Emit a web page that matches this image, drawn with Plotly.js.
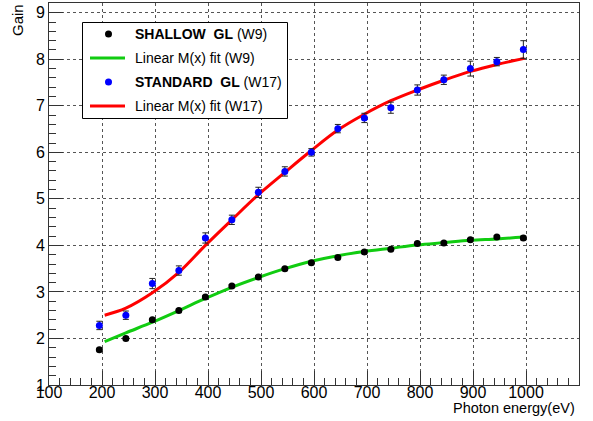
<!DOCTYPE html>
<html>
<head>
<meta charset="utf-8">
<script src="https://cdn.plot.ly/plotly-3.0.1.min.js"></script>
<style>
  html, body { margin: 0; padding: 0; background: #fff; }
  #chart { width: 593px; height: 421px; }
</style>
</head>
<body>
<div id="chart"></div>
<script>
// Measured gain vs photon energy for the two gain-layer designs
const photonEnergy = [195, 245, 295, 345, 395, 445, 495, 545, 595, 645, 695, 745, 795, 845, 895, 945, 995];

const shallowGain = [1.76, 2.00, 2.40, 2.60, 2.89, 3.13, 3.32, 3.50, 3.63, 3.74, 3.86, 3.92, 4.04, 4.05, 4.12, 4.18, 4.16];
const shallowErr  = [0.03, 0.03, 0.03, 0.03, 0.03, 0.03, 0.03, 0.03, 0.03, 0.03, 0.03, 0.03, 0.03, 0.03, 0.03, 0.03, 0.04];

const standardGain = [2.28, 2.50, 3.18, 3.46, 4.16, 4.55, 5.14, 5.59, 6.00, 6.51, 6.74, 6.96, 7.34, 7.56, 7.80, 7.95, 8.21];
const standardErr  = [0.09, 0.09, 0.11, 0.10, 0.11, 0.10, 0.11, 0.10, 0.08, 0.09, 0.10, 0.12, 0.11, 0.10, 0.16, 0.09, 0.19];

// Linear M(x) fit curves
const fitEnergy   = [205, 245, 295, 345, 395, 445, 495, 545, 595, 645, 695, 745, 795, 845, 895, 945, 997];
const shallowFit  = [1.93, 2.12, 2.35, 2.60, 2.86, 3.10, 3.31, 3.50, 3.66, 3.78, 3.87, 3.94, 4.01, 4.06, 4.11, 4.14, 4.18];
const standardFit = [2.50, 2.65, 2.98, 3.42, 4.00, 4.55, 5.09, 5.57, 6.04, 6.48, 6.82, 7.11, 7.34, 7.55, 7.74, 7.89, 8.02];

const xTicks = [100, 200, 300, 400, 500, 600, 700, 800, 900, 1000, 1100];
const yTicks = [1, 2, 3, 4, 5, 6, 7, 8, 9];

const legendRows = [
  { text: '<b>SHALLOW&nbsp;&nbsp;GL</b> (W9)', kind: 'dot', color: '#000000' },
  { text: 'Linear M(x) fit (W9)', kind: 'line', color: '#11cc11' },
  { text: '<b>STANDARD&nbsp;&nbsp;GL</b> (W17)', kind: 'dot', color: '#0000ff' },
  { text: 'Linear M(x) fit (W17)', kind: 'line', color: '#ff0000' }
];

const W = 593, H = 421;
const M = { l: 49, r: 14, t: 3, b: 36 };
const px = x => (x - M.l) / (W - M.l - M.r);
const py = y => (H - M.b - y) / (H - M.t - M.b);

const FONT = 'Liberation Sans, Arial, Helvetica, sans-serif';

const traces = [
  {
    x: fitEnergy, y: shallowFit, mode: 'lines', type: 'scatter',
    line: { color: '#11cc11', width: 3, shape: 'spline', smoothing: 1 },
    hoverinfo: 'skip'
  },
  {
    x: fitEnergy, y: standardFit, mode: 'lines', type: 'scatter',
    line: { color: '#ff0000', width: 3, shape: 'spline', smoothing: 1 },
    hoverinfo: 'skip'
  },
  {
    x: photonEnergy, y: shallowGain, mode: 'markers', type: 'scatter',
    marker: { color: '#000000', size: 7 },
    error_y: { type: 'data', array: shallowErr, visible: true, color: '#222', thickness: 1, width: 3 }
  },
  {
    x: photonEnergy, y: standardGain, mode: 'markers', type: 'scatter',
    marker: { color: '#0000ff', size: 7 },
    error_y: { type: 'data', array: standardErr, visible: true, color: '#222', thickness: 1, width: 3 }
  }
];

// Hand-built legend box
const shapes = [{
  type: 'rect', xref: 'paper', yref: 'paper',
  x0: px(82.5), x1: px(287.5), y0: py(118.5), y1: py(22.5),
  line: { color: '#000', width: 1 }, fillcolor: '#fff', layer: 'above'
}];
const annotations = [];
const rowY = [34, 58, 82, 106];
legendRows.forEach((row, i) => {
  const yc = rowY[i];
  if (row.kind === 'dot') {
    shapes.push({
      type: 'circle', xref: 'paper', yref: 'paper',
      x0: px(108.5 - 3.5), x1: px(108.5 + 3.5), y0: py(yc + 3.5), y1: py(yc - 3.5),
      fillcolor: row.color, line: { color: row.color, width: 0 }, layer: 'above'
    });
  } else {
    shapes.push({
      type: 'line', xref: 'paper', yref: 'paper',
      x0: px(90), x1: px(125), y0: py(yc), y1: py(yc),
      line: { color: row.color, width: 3 }, layer: 'above'
    });
  }
  annotations.push({
    xref: 'paper', yref: 'paper', x: px(133), y: py(yc),
    xanchor: 'left', yanchor: 'middle', showarrow: false,
    text: row.text, font: { family: FONT, size: 14, color: '#000' }
  });
});

// Axis titles
annotations.push({
  xref: 'paper', yref: 'paper', x: px(577), y: py(398),
  xanchor: 'right', yanchor: 'top', showarrow: false,
  text: 'Photon energy(eV)', font: { family: FONT, size: 14.5, color: '#000' }
});
annotations.push({
  xref: 'paper', yref: 'paper', x: px(18), y: py(2),
  xanchor: 'center', yanchor: 'top', showarrow: false, textangle: -90,
  text: 'Gain', font: { family: FONT, size: 15, color: '#000' }
});

const axisCommon = {
  showline: true, linecolor: '#333', linewidth: 1, mirror: true,
  ticks: 'inside', ticklen: 14, tickcolor: '#333', tickwidth: 1,
  showgrid: true, gridcolor: '#555', griddash: 'dot', gridwidth: 1,
  zeroline: false,
  tickfont: { family: FONT, size: 16, color: '#000' }
};

const layout = {
  width: W, height: H,
  margin: M,
  paper_bgcolor: '#fff', plot_bgcolor: '#fff',
  showlegend: false,
  xaxis: Object.assign({}, axisCommon, {
    range: [100, 1100], tickvals: xTicks, ticktext: xTicks.map(String),
    ticklabelstandoff: -7,
    minor: { ticks: 'inside', ticklen: 7, tickcolor: '#333', dtick: 20, tick0: 100, showgrid: false }
  }),
  yaxis: Object.assign({}, axisCommon, {
    range: [1, 9.21], tickvals: yTicks, ticktext: yTicks.map(String),
    minor: { ticks: 'inside', ticklen: 7, tickcolor: '#333', dtick: 0.2, tick0: 1, showgrid: false }
  }),
  shapes: shapes,
  annotations: annotations
};

Plotly.newPlot('chart', traces, layout, { displayModeBar: false, staticPlot: true });
</script>
</body>
</html>
